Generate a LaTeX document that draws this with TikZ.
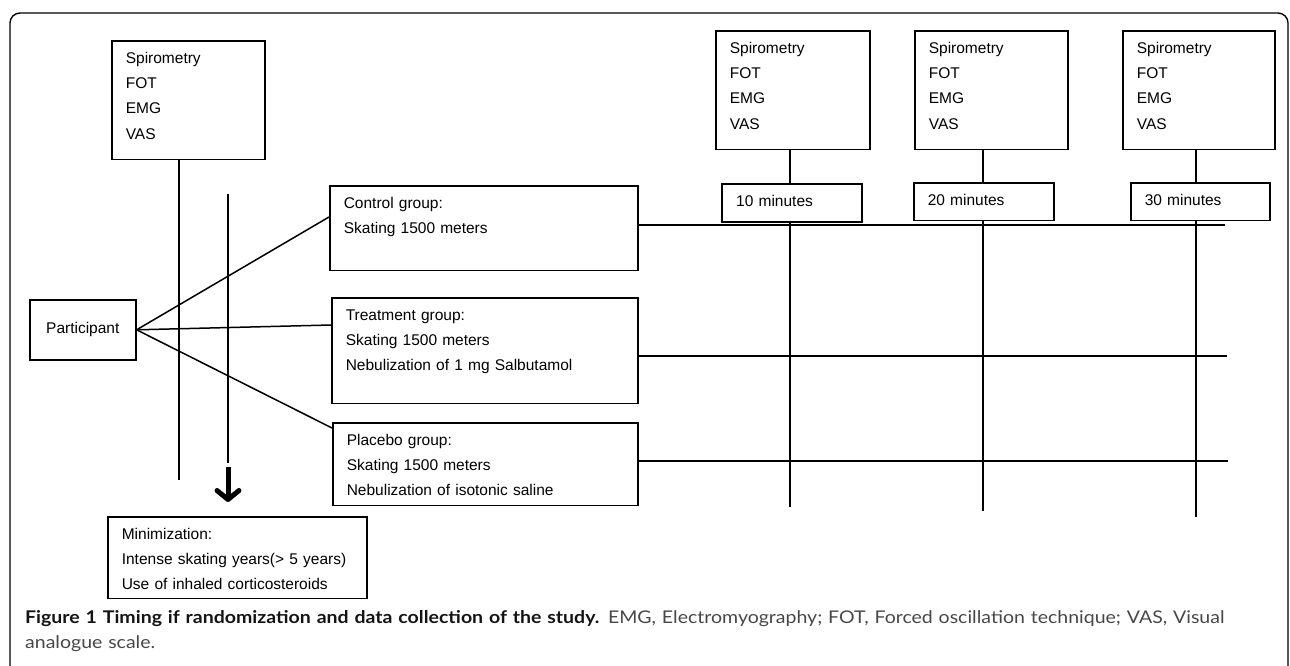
\documentclass[tikz,border=0pt]{standalone}
\usepackage{fontspec}
\setmainfont{Liberation Sans}
\newfontfamily\capfont[FakeStretch=1.115]{Lato}
\usepackage{tikz}
\usetikzlibrary{arrows.meta}

\tikzset{
	grp/.style={draw, line width=1.6pt, anchor=north west, inner xsep=14pt, inner ysep=11pt,
		text height=11.3pt, align=left, font=\fontsize{15.5}{25.3}\selectfont},
	link/.style={line width=1.5pt},
}

\begin{document}
\begin{tikzpicture}[x=1pt, y=-1pt]
		\useasboundingbox (0,0) rectangle (1290,665);
		% frame
		\draw[line width=1.4pt, rounded corners=10pt] (10,672) -- (10,13) -- (1288,13) -- (1288,672);
		% measurements
		\node[grp, text width=125pt, text depth=85.5pt] (meas0) at (111,40) {Spirometry\\FOT\\EMG\\VAS};
		\node[grp, text width=126pt, text depth=85.5pt] (meas1) at (715,30) {Spirometry\\FOT\\EMG\\VAS};
		\node[grp, text width=125pt, text depth=85.5pt] (meas2) at (914,30) {Spirometry\\FOT\\EMG\\VAS};
		\node[grp, text width=124pt, text depth=85.5pt] (meas3) at (1122,30) {Spirometry\\FOT\\EMG\\VAS};
		\node[grp, line width=2.4pt, text width=112pt, text depth=4.5pt] (t10) at (721,183) {10 minutes};
		\node[grp, text width=112pt, text depth=4.5pt] (t20) at (913,182) {20 minutes};
		\node[grp, text width=111pt, text depth=4.5pt] (t30) at (1130,182) {30 minutes};
		% groups
		\node[draw, line width=1.6pt, anchor=north west, minimum width=106pt, minimum height=60pt,
			font=\fontsize{15.5}{25.3}\selectfont] (part) at (29,299) {Participant};
		\node[grp, text width=280pt, text depth=51.5pt] (ctrl) at (329,185) {Control group:\\Skating 1500 meters};
		\node[grp, text width=278pt, text depth=72.5pt] (treat) at (331,297) {Treatment group:\\Skating 1500 meters\\Nebulization of 1 mg Salbutamol};
		\node[grp, text width=277pt, text depth=49.5pt] (plac) at (332,422) {Placebo group:\\Skating 1500 meters\\Nebulization of isotonic saline};
		\node[grp, text width=231pt, text depth=48.5pt] (mini) at (107,516) {Minimization:\\Intense skating years(> 5 years)\\Use of inhaled corticosteroids};
		% free ends
		\coordinate (base0) at (179,480);
		\coordinate (arr0) at (228,194);
		\coordinate (arr1) at (228,463);
		\coordinate (arr2) at (228,467);
		\coordinate (tip) at (228,502);
		\coordinate (endC) at (1225,225);
		\coordinate (endT) at (1227,356);
		\coordinate (endP) at (1228,461);
		\coordinate (bot1) at (790,507);
		\coordinate (bot2) at (983,511);
		\coordinate (bot3) at (1196,517);
		% connectors
		\draw[link] (meas0.south -| base0) -- (base0);
		\draw[link] (arr0) -- (arr1);
		\draw[line width=5pt, -{Straight Barb[length=9pt, width=22pt, line width=5pt, round]}] (arr2) -- (tip);
		\draw[link] (part.east) -- ([yshift=-32pt]ctrl.north west);
		\draw[link] (part.east) -- ([yshift=-28pt]treat.north west);
		\draw[link] (part.east) -- ([yshift=-6pt]plac.north west);
		\draw[link] (ctrl.east |- endC) -- (endC);
		\draw[link] (treat.east |- endT) -- (endT);
		\draw[link] (plac.east |- endP) -- (endP);
		\draw[link] (meas1.south -| bot1) -- (t10.north -| bot1);
		\draw[link] (meas2.south -| bot2) -- (t20.north -| bot2);
		\draw[link] (meas3.south -| bot3) -- (t30.north -| bot3);
		\draw[link] (t10.south -| bot1) -- (bot1);
		\draw[link] (t20.south -| bot2) -- (bot2);
		\draw[link] (t30.south -| bot3) -- (bot3);
		% caption
		\node[anchor=base west, inner sep=0pt, text width=1262pt, align=left, text=black!72,
			font=\capfont\fontsize{17.5}{25}\selectfont] (cap) at (25,623)
			{\textbf{\color{black!92}Figure 1 Timing if randomization and data collection of the study.} EMG, Electromyography; FOT, Forced oscillation technique; VAS, Visual\\analogue scale.};
\end{tikzpicture}
\end{document}
